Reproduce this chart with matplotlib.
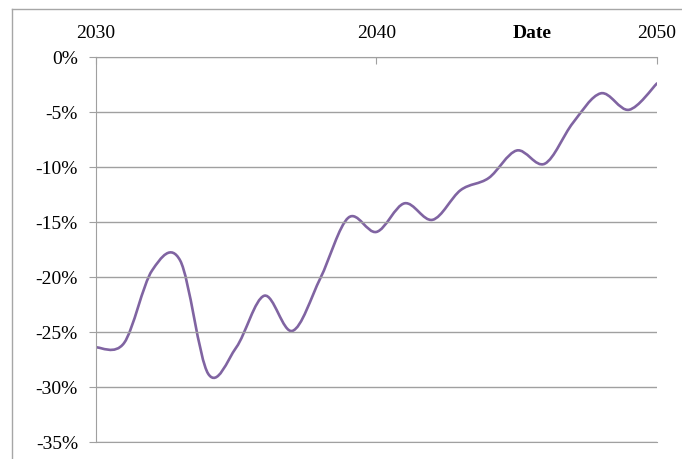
import matplotlib
matplotlib.use("Agg")
import matplotlib.pyplot as plt
from matplotlib.path import Path
from matplotlib.patches import PathPatch
from matplotlib.lines import Line2D

years = list(range(2030, 2051))
change = [-26.4, -26.0, -19.4, -18.5, -28.8, -26.4, -21.7, -24.9, -20.1, -14.6,
          -15.9, -13.3, -14.8, -12.1, -11.0, -8.5, -9.7, -6.0, -3.3, -4.8, -2.4]
yticks = [0, -5, -10, -15, -20, -25, -30, -35]
xticks = [2030, 2040, 2050]

plt.rcParams['font.family'] = ['Liberation Serif', 'DejaVu Serif']

fig = plt.figure(figsize=(6.82, 4.59), dpi=100)
# chart frame: only left and top edges are visible in the crop
fig.lines.append(Line2D([12 / 682, 12 / 682], [0, 1 - 9 / 459], transform=fig.transFigure,
                        color='#a6a6a6', linewidth=1))
fig.lines.append(Line2D([12 / 682, 1], [1 - 9 / 459, 1 - 9 / 459], transform=fig.transFigure,
                        color='#a6a6a6', linewidth=1))
ax = fig.add_axes([0.1408, 0.037, 0.8225, 0.8388])

# smoothed line like Excel: cubic bezier segments through the yearly points
verts = [(years[0], change[0])]
codes = [Path.MOVETO]
n = len(years)
for i in range(n - 1):
    x0, y0 = years[max(i - 1, 0)], change[max(i - 1, 0)]
    x1, y1 = years[i], change[i]
    x2, y2 = years[i + 1], change[i + 1]
    x3, y3 = years[min(i + 2, n - 1)], change[min(i + 2, n - 1)]
    c1 = (x1 + (x2 - x0) / 6, y1 + (y2 - y0) / 6)
    c2 = (x2 - (x3 - x1) / 6, y2 - (y3 - y1) / 6)
    verts += [c1, c2, (x2, y2)]
    codes += [Path.CURVE4, Path.CURVE4, Path.CURVE4]
ax.add_patch(PathPatch(Path(verts, codes), fill=False, edgecolor='#8064a2',
                       linewidth=1.9, capstyle='round', joinstyle='round'))

ax.set_xlim(2030, 2050)
ax.set_ylim(-35, 0)
ax.set_yticks(yticks)
ax.set_yticklabels([f"{v}%" for v in yticks])
ax.set_xticks(xticks)
ax.xaxis.tick_top()
ax.tick_params(axis='x', direction='in', length=5, pad=11, labelsize=14, color='#a0a0a0')
ax.tick_params(axis='y', direction='out', length=5, pad=8, labelsize=14, color='#a0a0a0')
ax.grid(axis='y', color='#a0a0a0', linewidth=1)
for side in ['left', 'top', 'bottom']:
    ax.spines[side].set_color('#a0a0a0')
ax.spines['right'].set_visible(False)

fig.text(532 / 682, 1 - 33 / 459, 'Date', fontsize=14, fontweight='bold',
         ha='center', va='center')

fig.savefig('out.png', dpi=100)
